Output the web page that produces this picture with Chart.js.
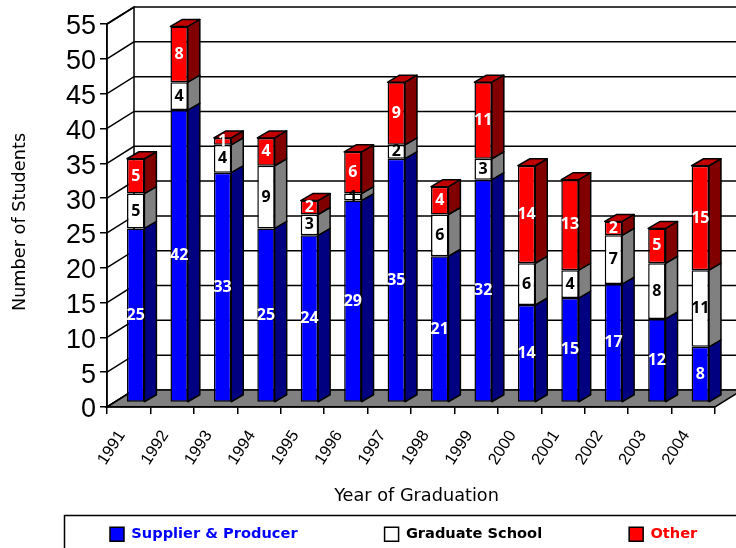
<!DOCTYPE html>
<html>
<head>
<meta charset="utf-8">
<style>
  html, body { margin: 0; padding: 0; background: #fff; overflow: hidden; }
  canvas { display: block; }
</style>
<script src="https://cdn.jsdelivr.net/npm/chart.js@4"></script>
</head>
<body>
<canvas id="chart" width="736" height="548"></canvas>
<script>
const years = ["1991","1992","1993","1994","1995","1996","1997","1998","1999","2000","2001","2002","2003","2004"];
const supplier = [25,42,33,25,24,29,35,21,32,14,15,17,12,8];
const gradSchool = [5,4,4,9,3,1,2,6,3,6,4,7,8,11];
const other = [5,8,1,4,2,6,9,4,11,14,13,2,5,15];
const yTicks = [0,5,10,15,20,25,30,35,40,45,50,55];

const seriesNames = ["Supplier & Producer", "Graduate School", "Other"];
const faceColors = ["#0000ff", "#ffffff", "#ff0000"];
const sideColors = ["#000080", "#808080", "#800000"];
const labelColors = ["#ffffff", "#000000", "#ffffff"];
const legendColors = ["#0000ff", "#000000", "#ff0000"];

const COMIC = '"DejaVu Sans", sans-serif';
const LEGEND_GAP = 87;

// wall depth and where the bars sit inside it
const DEPTH_X = 27, DEPTH_Y = -17;
const BAR_X = 7, BAR_Y = -4.5;
const BAR_DEPTH_X = 12, BAR_DEPTH_Y = -7;

function poly(ctx, pts, fill) {
  ctx.beginPath();
  pts.forEach((p, i) => i ? ctx.lineTo(p[0], p[1]) : ctx.moveTo(p[0], p[1]));
  ctx.closePath();
  ctx.fillStyle = fill;
  ctx.fill();
  ctx.stroke();
}

const threeD = {
  id: "threeD",
  beforeInit(chart) {
    // legend keeps its wide spacing but must not eat the plot height
    const fit = chart.legend.fit;
    chart.legend.fit = function () {
      this.maxWidth = 1200;
      fit.call(this);
      this.height = 33;
    };
  },
  afterLayout(chart) {
    chart.legend.left = 110 - LEGEND_GAP;
    chart.legend.right = 1200;
    chart.legend.top = 527 - LEGEND_GAP;
  },
  beforeDraw(chart) {
    const { ctx, chartArea: a, scales: { y } } = chart;
    ctx.save();
    ctx.strokeStyle = "#000";
    ctx.lineWidth = 1.5;

    // legend frame runs off the picture
    ctx.strokeRect(64.5, 515.5, 800, 100);

    poly(ctx, [[a.left, y.getPixelForValue(55)], [a.left + DEPTH_X, y.getPixelForValue(55) + DEPTH_Y],
      [a.left + DEPTH_X, a.bottom + DEPTH_Y], [a.left, a.bottom]], "#fff");

    yTicks.forEach(v => {
      const py = y.getPixelForValue(v);
      ctx.beginPath();
      ctx.moveTo(a.left, py);
      ctx.lineTo(a.left + DEPTH_X, py + DEPTH_Y);
      ctx.lineTo(a.right + DEPTH_X, py + DEPTH_Y);
      ctx.stroke();
    });

    poly(ctx, [[a.left, a.bottom], [a.right, a.bottom],
      [a.right + DEPTH_X, a.bottom + DEPTH_Y], [a.left + DEPTH_X, a.bottom + DEPTH_Y]], "#808080");
    ctx.restore();
  },
  beforeDatasetsDraw(chart) {
    const { ctx } = chart;
    ctx.save();
    ctx.translate(BAR_X, BAR_Y);
    ctx.strokeStyle = "#000";
    ctx.lineWidth = 1.5;
    ctx.lineJoin = "round";
    chart.data.datasets.forEach((ds, d) => {
      chart.getDatasetMeta(d).data.forEach(bar => {
        const right = bar.x + bar.width / 2, left = bar.x - bar.width / 2;
        poly(ctx, [[right, bar.base], [right + BAR_DEPTH_X, bar.base + BAR_DEPTH_Y],
          [right + BAR_DEPTH_X, bar.y + BAR_DEPTH_Y], [right, bar.y]], sideColors[d]);
        if (d === chart.data.datasets.length - 1) {
          poly(ctx, [[left, bar.y], [right, bar.y], [right + BAR_DEPTH_X, bar.y + BAR_DEPTH_Y],
            [left + BAR_DEPTH_X, bar.y + BAR_DEPTH_Y]], "#c00000");
        }
      });
    });
    // the library's own bars get drawn inside this same shift
  },
  afterDatasetsDraw(chart) {
    const { ctx } = chart;
    ctx.textAlign = "center";
    ctx.textBaseline = "middle";
    ctx.font = 'bold 16px "Noto Sans"';
    chart.data.datasets.forEach((ds, d) => {
      chart.getDatasetMeta(d).data.forEach((bar, i) => {
        ctx.fillStyle = labelColors[d];
        ctx.fillText(String(ds.data[i]), bar.x, (bar.y + bar.base) / 2);
      });
    });
    ctx.restore();
  },
  afterDraw(chart) {
    const { ctx } = chart;
    ctx.save();
    ctx.fillStyle = "#000";
    ctx.font = '17.7px ' + COMIC;
    ctx.textAlign = "center";
    ctx.textBaseline = "middle";
    ctx.fillText("Year of Graduation", 416.5, 496);
    ctx.translate(20, 222);
    ctx.rotate(-Math.PI / 2);
    ctx.fillText("Number of Students", 0, 0);
    ctx.restore();
  }
};

new Chart(document.getElementById("chart"), {
  type: "bar",
  data: {
    labels: years,
    datasets: [supplier, gradSchool, other].map((values, i) => ({
      label: seriesNames[i],
      data: values,
      backgroundColor: faceColors[i],
      borderColor: "#000",
      borderWidth: 1.5,
      borderSkipped: false,
      barPercentage: 0.4,
      categoryPercentage: 1,
      clip: false
    }))
  },
  options: {
    responsive: false,
    animation: false,
    layout: { padding: { top: 24, right: 21, left: 0, bottom: 0 } },
    plugins: {
      tooltip: { enabled: false },
      legend: {
        position: "bottom",
        align: "start",
        labels: {
          boxWidth: 14,
          boxHeight: 14,
          padding: LEGEND_GAP,
          font: { family: COMIC, size: 14.6, weight: "bold" },
          generateLabels(chart) {
            return Chart.defaults.plugins.legend.labels.generateLabels(chart)
              .map((item, i) => ({ ...item, fontColor: legendColors[i] }));
          }
        }
      }
    },
    scales: {
      x: {
        stacked: true,
        afterFit(scale) { scale.height = 108; },
        border: { color: "#000", width: 1.5 },
        grid: { drawOnChartArea: false, color: "#000", lineWidth: 1.5, tickLength: 7 },
        ticks: {
          autoSkip: false,
          minRotation: 57,
          maxRotation: 57,
          padding: 13,
          labelOffset: -7,
          color: "#000",
          font: { family: '"Liberation Sans"', size: 16.5 }
        }
      },
      y: {
        stacked: true,
        min: 0,
        max: 55,
        afterFit(scale) { scale.width = 107; },
        afterBuildTicks(scale) { scale.ticks = yTicks.map(v => ({ value: v })); },
        border: { color: "#000", width: 1.5 },
        grid: { drawOnChartArea: false, color: "#000", lineWidth: 1.5, tickLength: 7 },
        ticks: {
          autoSkip: false,
          padding: 4,
          labelOffset: 3,
          color: "#000",
          font: { family: '"Liberation Sans"', size: 27 }
        }
      }
    }
  },
  plugins: [threeD]
});
</script>
</body>
</html>
